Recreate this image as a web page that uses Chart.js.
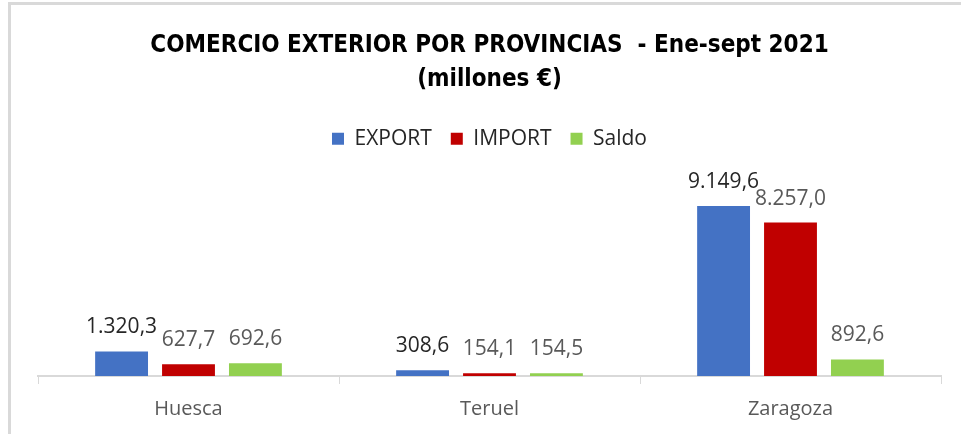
<!DOCTYPE html>
<html>
<head>
<meta charset="utf-8">
<script src="https://cdn.jsdelivr.net/npm/chart.js@4"></script>
<style>
  html, body { margin: 0; padding: 0; background: #fff; }
  #wrap { position: relative; width: 961px; height: 434px; }
  #frame { position: absolute; left: 8px; top: 2px; width: 980px; height: 460px;
           border-left: 3px solid #d9d9d9; border-top: 3px solid #d9d9d9; pointer-events: none; }
</style>
</head>
<body>
<div id="wrap">
  <canvas id="tradeChart" width="961" height="434"></canvas>
  <div id="frame"></div>
</div>
<script>
const provincias = ['Huesca', 'Teruel', 'Zaragoza'];
const exportVals = [1320.3, 308.6, 9149.6];
const importVals = [627.7, 154.1, 8257.0];
const saldoVals = [692.6, 154.5, 892.6];

// numero en formato espanol: 9.149,6
function fmt(v) {
  const parts = v.toFixed(1).split('.');
  return parts[0].replace(/\B(?=(\d{3})+(?!\d))/g, '.') + ',' + parts[1];
}

const labelColors = ['#262626', '#595959', '#595959'];

const barLabels = {
  id: 'barLabels',
  afterDatasetsDraw(chart) {
    const ctx = chart.ctx;
    ctx.save();
    ctx.font = '21px "Open Sans", sans-serif';
    ctx.textAlign = 'center';
    ctx.textBaseline = 'middle';
    chart.data.datasets.forEach(function(ds, i) {
      const meta = chart.getDatasetMeta(i);
      meta.data.forEach(function(bar, j) {
        ctx.fillStyle = labelColors[i];
        ctx.fillText(fmt(ds.data[j]), bar.x, bar.y - 24);
      });
    });
    ctx.restore();
  }
};

const legendSpace = {
  id: 'legendSpace',
  beforeInit(chart) {
    const origFit = chart.legend.fit;
    chart.legend.fit = function() {
      origFit.bind(chart.legend)();
      this.height += 31;
    };
  }
};

const ctx = document.getElementById('tradeChart').getContext('2d');
new Chart(ctx, {
  type: 'bar',
  data: {
    labels: provincias,
    datasets: [
      { label: 'EXPORT', data: exportVals, backgroundColor: '#4472C4' },
      { label: 'IMPORT', data: importVals, backgroundColor: '#C00000' },
      { label: 'Saldo', data: saldoVals, backgroundColor: '#92D050' }
    ]
  },
  options: {
    responsive: false,
    animation: false,
    layout: { padding: { left: 38, right: 20, top: 0, bottom: 0 } },
    categoryPercentage: 0.667,
    barPercentage: 0.79,
    scales: {
      x: {
        grid: { display: true, drawOnChartArea: false, drawTicks: true, tickLength: 8, color: '#d9d9d9', offset: true },
        border: { display: true, color: '#d9d9d9', width: 2 },
        ticks: { color: '#595959', font: { family: '"Open Sans", sans-serif', size: 20 }, padding: 13 }
      },
      y: {
        display: false,
        min: 0,
        max: 10000
      }
    },
    plugins: {
      title: {
        display: true,
        text: ['COMERCIO EXTERIOR POR PROVINCIAS  - Ene-sept 2021', '(millones €)'],
        color: '#000',
        font: { family: '"Liberation Sans Narrow", "DejaVu Sans Condensed", sans-serif', size: 24, weight: 'bold', lineHeight: 1.4 },
        padding: { top: 29, bottom: 13 }
      },
      legend: {
        position: 'top',
        labels: {
          color: '#262626',
          font: { family: '"Open Sans", sans-serif', size: 21 },
          boxWidth: 12,
          boxHeight: 12,
          padding: 19
        }
      },
      tooltip: { enabled: false }
    }
  },
  plugins: [barLabels, legendSpace]
});
</script>
</body>
</html>
